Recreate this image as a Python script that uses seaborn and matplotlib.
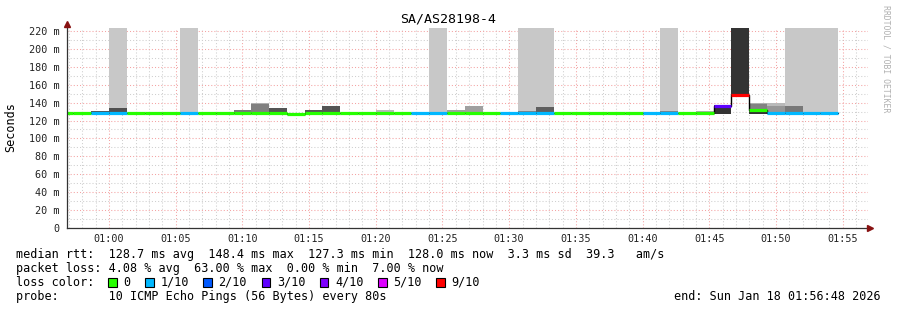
import numpy as np
import pandas as pd
import matplotlib
matplotlib.use("Agg")
import matplotlib.pyplot as plt
import seaborn as sns
from matplotlib.patches import Rectangle

# ---------------- data ----------------
# 80-second steps, index relative to 01:00:00
step_index = list(range(-3, 41))
step_seconds = 80

median_ms = [128.3, 128.3, 128.4, 128.4, 128.3, 128.3, 128.3, 128.4, 128.3, 128.3,
             128.4, 128.3, 128.4, 127.4, 128.3, 128.4, 128.2, 128.3, 128.3, 128.2,
             128.3, 128.4, 128.3, 128.4, 128.3, 128.3, 128.4, 128.3, 128.3, 128.3,
             128.3, 128.3, 128.3, 128.3, 128.4, 128.2, 128.3, 136.2, 148.4, 131.6,
             128.5, 128.4, 128.3, 128.0]

loss_level = [0, 0, 1, 1, 0, 0, 0, 1, 0, 0,
              0, 0, 0, 0, 0, 0, 0, 0, 0, 0,
              1, 1, 0, 0, 0, 1, 1, 1, 0, 0,
              0, 0, 0, 1, 1, 0, 0, 3, 6, 0,
              1, 1, 1, 1]

loss_labels = ["0", "1/10", "2/10", "3/10", "4/10", "5/10", "9/10"]
loss_colors = ["#26ff00", "#00b8ff", "#0059ff", "#5e00ff", "#7e00ff", "#dd00ff", "#ff0000"]

# smoke bands (step, low ms, high ms, grey level)
band_step = [0, 4, 18, 23, 24, 31, 38, 39, 40,
             -1, 0, 7, 8, 8, 9, 11, 12, 15, 19, 20, 23, 24, 31, 33,
             34, 35, 36, 36, 36, 37, 37, 38]
band_lo = [128.5] * 9 + [128.0] * 15 + [127.0, 148.4, 128.0, 128.0, 127.0, 128.0, 128.0, 128.0]
band_hi = [240] * 9 + [130.2, 134.3, 131.5, 139.6, 138.8, 134.0, 131.8, 136.2, 131.8,
                       131.8, 136.2, 130.6, 135.0, 131.2, 130.6,
                       137.8, 240, 139.6, 138.5, 131.0, 140.0, 136.5, 136.2]
band_grey = [200] * 9 + [85, 80, 120, 175, 128, 85, 85, 85, 185, 160, 160, 130, 95, 130, 175,
                         51, 51, 175, 130, 51, 185, 150, 120]

y_ticks = [0, 20, 40, 60, 80, 100, 120, 140, 160, 180, 200, 220]
y_tick_labels = ["0", "20 m", "40 m", "60 m", "80 m", "100 m", "120 m", "140 m",
                 "160 m", "180 m", "200 m", "220 m"]
x_ticks = [0, 5, 10, 15, 20, 25, 30, 35, 40, 45, 50, 55]
x_tick_labels = ["01:00", "01:05", "01:10", "01:15", "01:20", "01:25", "01:30",
                 "01:35", "01:40", "01:45", "01:50", "01:55"]

title = "SA/AS28198-4"
line_rtt = "median rtt:  128.7 ms avg  148.4 ms max  127.3 ms min  128.0 ms now  3.3 ms sd  39.3   am/s"
line_loss = "packet loss: 4.08 % avg  63.00 % max  0.00 % min  7.00 % now"
probe_line = "probe:       10 ICMP Echo Pings (56 Bytes) every 80s"
end_line = "end: Sun Jan 18 01:56:48 2026"

# ---------------- figure ----------------
W, H = 897, 310
sns.set_style("white")
plt.rcParams["font.family"] = ["DejaVu Sans Mono", "DejaVu Sans"]
MONO = "DejaVu Sans Mono"

fig = plt.figure(figsize=(W / 100, H / 100), dpi=100)
fig.patch.set_facecolor("white")
ax = fig.add_axes([67 / W, 82 / H, 801 / W, 200 / H])
ax.set_facecolor("white")

step_min = step_seconds / 60.0
starts = np.array(step_index) * step_min

df = pd.DataFrame({"start": starts, "median": median_ms, "loss": loss_level})

# smoke
bands = pd.DataFrame({"step": band_step, "lo": band_lo, "hi": band_hi, "grey": band_grey})
for _, r in bands.iterrows():
    g = int(r["grey"])
    ax.bar(r["step"] * step_min, r["hi"] - r["lo"], bottom=r["lo"], width=step_min,
           align="edge", color="#%02x%02x%02x" % (g, g, g), linewidth=0, zorder=1)

# black median step line
line_x = list(starts) + [starts[-1] + step_min]
line_y = list(median_ms) + [median_ms[-1]]
sns.lineplot(x=line_x, y=line_y, ax=ax, color="#000000", linewidth=1.0,
             drawstyle="steps-post", zorder=3, estimator=None, sort=False)

# loss-coloured median
ax.hlines(df["median"], df["start"], df["start"] + step_min,
          colors=[loss_colors[i] for i in df["loss"]], linewidth=2.3, zorder=4)

ax.set_xlim(-3.15, 56.9)
ax.set_ylim(0, 223.35)

ax.set_yticks(y_ticks)
ax.set_yticklabels(y_tick_labels, family=MONO, fontsize=7.3, color="#222222")
ax.set_yticks(np.arange(10, 221, 20), minor=True)
ax.set_xticks(x_ticks)
ax.set_xticklabels(x_tick_labels, family=MONO, fontsize=7.3, color="#222222")
ax.set_xticks(np.arange(-3, 57, 1), minor=True)

ax.tick_params(axis="y", which="both", length=0, pad=5.2)
ax.tick_params(axis="x", which="major", length=3, width=0.8, color="#ff6060",
               direction="out", pad=1.2)
ax.tick_params(axis="x", which="minor", length=2, width=0.7, color="#bbbbbb",
               direction="out")

dash = (0, (1, 2))
ax.set_axisbelow(True)
ax.grid(True, which="major", color="#f4a3a3", linewidth=0.75, linestyle=dash)
ax.grid(True, which="minor", color="#cfcfcf", linewidth=0.75, linestyle=dash)

for s in ["top", "right"]:
    ax.spines[s].set_visible(False)
for s in ["left", "bottom"]:
    ax.spines[s].set_color("#333333")
    ax.spines[s].set_linewidth(0.9)
    ax.spines[s].set_zorder(5)

# arrows at axis ends
ax.plot([0], [1.02], marker="^", markersize=4.5, color="#881111",
        transform=ax.transAxes, clip_on=False, zorder=6)
ax.plot([1.003], [0], marker=">", markersize=4.5, color="#881111",
        transform=ax.transAxes, clip_on=False, zorder=6)


def ftext(x, y, s, **kw):
    kw.setdefault("family", MONO)
    kw.setdefault("va", "center")
    kw.setdefault("color", "#000000")
    fig.text(x / W, 1 - y / H, s, **kw)


ftext(448, 19, title, fontsize=9.5, ha="center")
ftext(10.5, 127.5, "Seconds", fontsize=8.5, ha="center", rotation=90)
ftext(886, 59, "RRDTOOL / TOBI OETIKER", fontsize=5.9, ha="center", rotation=270,
      color="#b0b0b0")

FS = 8.5
CW = 7.11
ftext(16, 254.3, line_rtt, fontsize=FS, ha="left")
ftext(16, 268.3, line_loss, fontsize=FS, ha="left")

ftext(16, 282.3, "loss color:", fontsize=FS, ha="left")
sx = 108.3
for lab, col in zip(loss_labels, loss_colors):
    fig.patches.append(Rectangle((sx / W, 1 - 286.7 / H), 8.4 / W, 8.4 / H,
                                 transform=fig.transFigure, facecolor=col,
                                 edgecolor="#000000", linewidth=0.8))
    tx = sx + 15
    ftext(tx, 282.3, lab, fontsize=FS, ha="left")
    sx = tx + len(lab) * CW + 14.8

ftext(16, 296.3, probe_line, fontsize=FS, ha="left")
ftext(881, 296.3, end_line, fontsize=FS, ha="right")

fig.savefig("out.png", dpi=100, facecolor="white")
